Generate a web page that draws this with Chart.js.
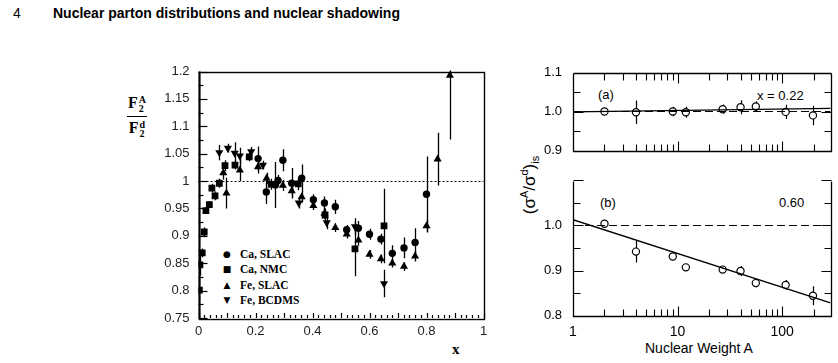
<!DOCTYPE html>
<html><head><meta charset="utf-8">
<script src="https://cdn.jsdelivr.net/npm/chart.js@4.4.1/dist/chart.umd.min.js"></script>
<style>
html,body{margin:0;padding:0;background:#fff;}
body{width:838px;height:363px;overflow:hidden;position:relative;font-family:"Liberation Sans",Arial,Helvetica,sans-serif;color:#000}
canvas{position:absolute;left:0;top:0}
.t{position:absolute;white-space:nowrap;line-height:1}
.lg{position:absolute;left:221px;font:bold 11.5px "Liberation Serif","Times New Roman",serif;white-space:nowrap;line-height:12px}
.lg span{display:inline-block;width:12px;text-align:center;font:9px "DejaVu Sans",sans-serif;margin-right:7px;vertical-align:1px}
.ss{display:inline-block;vertical-align:-4px;font-size:10px;line-height:9px;text-align:left;margin-left:1px}
</style></head>
<body>
<div class="t" style="left:13px;top:6px;font-size:14px">4</div>
<div class="t" style="left:53px;top:6px;font-size:14px;font-weight:bold">Nuclear parton distributions and nuclear shadowing</div>

<div class="t" style="left:127px;top:95px;font:bold 16px 'Liberation Serif','Times New Roman',serif;text-align:center;line-height:1">
  <div style="border-bottom:1.6px solid #000;padding:0 1px 3px">F<span class="ss">A<br>2</span></div>
  <div style="padding-top:3px">F<span class="ss">d<br>2</span></div>
</div>
<div class="t" style="left:452px;top:341px;font:bold 15px 'Liberation Serif','Times New Roman',serif">x</div>

<div class="lg" style="top:248px"><span>●</span>Ca, SLAC</div>
<div class="lg" style="top:263px"><span>■</span>Ca, NMC</div>
<div class="lg" style="top:279px"><span>▲</span>Fe, SLAC</div>
<div class="lg" style="top:294px"><span>▼</span>Fe, BCDMS</div>

<div class="t" style="left:598px;top:88px;font-size:13px">(a)</div>
<div class="t" style="left:757px;top:89px;font-size:13px">x = 0.22</div>
<div class="t" style="left:600px;top:196px;font-size:13px">(b)</div>
<div class="t" style="left:779px;top:196px;font-size:13px">0.60</div>
<div class="t" style="left:530px;top:185px;font-size:17px;transform:translate(-50%,-50%) rotate(-90deg)">(σ<sup style="font-size:11px">A</sup>/σ<sup style="font-size:11px">d</sup>)<sub style="font-size:11px">is</sub></div>
<div class="t" style="left:645px;top:341px;font-size:14px">Nuclear Weight A</div>

<canvas id="c1" width="838" height="363"></canvas>
<canvas id="c2" width="838" height="363"></canvas>
<canvas id="c3" width="838" height="363"></canvas>

<script>
// ---------- Left panel: F2^A / F2^d versus x ----------
const caSlacX = [0.209,0.238,0.270,0.279,0.296,0.327,0.362,0.403,0.442,0.480,0.520,0.561,0.600,0.640,0.680,0.721,0.760,0.800];
const caSlacR = [1.041,0.980,0.993,1.001,1.038,0.996,1.005,0.966,0.960,0.953,0.911,0.914,0.903,0.894,0.868,0.878,0.888,0.976];
const caSlacE = [0.022,0.022,0.042,0.010,0.020,0.028,0.025,0.010,0.012,0.013,0.009,0.013,0.010,0.010,0.015,0.019,0.026,0.069];

const caNmcX = [0.003,0.005,0.013,0.020,0.026,0.038,0.047,0.058,0.073,0.093,0.128,0.178,0.255,0.350,0.444,0.549,0.651];
const caNmcR = [0.801,0.847,0.869,0.907,0.946,0.957,0.987,0.973,0.996,1.028,1.029,1.044,0.994,0.995,0.938,0.876,0.918];
const caNmcE = [0.020,0.020,0.008,0.008,0.006,0.006,0.008,0.008,0.008,0.010,0.008,0.008,0.010,0.012,0.012,0.050,0.068];

const feSlacX = [0.087,0.098,0.145,0.209,0.239,0.296,0.327,0.362,0.403,0.442,0.480,0.520,0.561,0.600,0.640,0.680,0.721,0.760,0.800,0.839,0.882];
const feSlacR = [1.015,0.978,1.020,1.026,1.005,0.992,0.982,0.971,0.955,0.941,0.915,0.903,0.892,0.866,0.858,0.850,0.844,0.863,0.918,1.040,1.193];
const feSlacE = [0.012,0.028,0.020,0.012,0.010,0.010,0.010,0.010,0.008,0.010,0.008,0.008,0.010,0.008,0.008,0.008,0.008,0.010,0.012,0.048,0.117];

const feBcdmsX = [0.073,0.103,0.127,0.145,0.185,0.226,0.352,0.450,0.549,0.651];
const feBcdmsR = [1.052,1.060,1.051,1.046,1.054,1.029,0.960,0.924,0.917,0.813];
const feBcdmsE = [0.014,0.008,0.020,0.015,0.008,0.008,0.010,0.012,0.015,0.025];

const leftXTicks = [0,0.2,0.4,0.6,0.8,1];
const leftXTickLabels = ['0','0.2','0.4','0.6','0.8','1'];
const leftYTicks = [0.75,0.8,0.85,0.9,0.95,1,1.05,1.1,1.15,1.2];
const leftYTickLabels = ['0.75','0.8','0.85','0.9','0.95','1','1.05','1.1','1.15','1.2'];

// ---------- Right panel: (sigma^A/sigma^d)_is versus nuclear weight A ----------
const massNumbers = [2,4,9,12,27,40,56,108,197];
const ratioX022 = [1.000,0.998,1.000,0.998,1.006,1.011,1.013,0.999,0.990];
const errX022   = [0.006,0.030,0.012,0.014,0.012,0.018,0.013,0.018,0.025];
const ratioX060 = [1.004,0.942,0.931,0.907,0.902,0.899,0.872,0.868,0.844];
const errX060   = [0.005,0.024,0.007,0.004,0.004,0.011,0.009,0.011,0.021];
const fitA   = [1,290];
const fitX022 = [0.999,1.008];
const fitX060 = [1.013,0.828];
const unityLine = [1.0,1.0];
const rightXTicks = [1,10,100];
const rightXTickLabels = ['1','10','100'];
const topYTicks = [0.9,1.0,1.1];
const topYTickLabels = ['0.9','1.0','1.1'];
const botYTicks = [0.8,0.9,1.0];
const botYTickLabels = ['0.8','0.9','1.0'];

const FONT = '"Liberation Sans", Arial, Helvetica, sans-serif';

const errorBarPlugin = {
  id:'errbars',
  beforeDatasetsDraw(chart){
    const {ctx, chartArea:a, scales:{x,y}} = chart;
    ctx.save();
    ctx.beginPath(); ctx.rect(a.left,a.top-1,a.right-a.left,a.bottom-a.top+1); ctx.clip();
    chart.data.datasets.forEach(ds=>{
      if(!ds.errors) return;
      ctx.strokeStyle = '#000'; ctx.lineWidth = ds.errWidth || 1.3;
      ds.data.forEach((p,i)=>{
        const e = ds.errors[i]; if(!e) return;
        const px = Math.round(x.getPixelForValue(p.x)) + 0.5;
        ctx.beginPath();
        ctx.moveTo(px, y.getPixelForValue(p.y-e));
        ctx.lineTo(px, y.getPixelForValue(p.y+e));
        ctx.stroke();
      });
    });
    ctx.restore();
  }
};

const leftFramePlugin = {
  id:'leftframe',
  beforeDatasetsDraw(chart){
    const {ctx, chartArea:a, scales:{x,y}} = chart;
    ctx.save();
    ctx.strokeStyle='#000'; ctx.lineWidth=1; ctx.setLineDash([2,2]);
    const y1 = Math.round(y.getPixelForValue(1))+0.5;
    ctx.beginPath(); ctx.moveTo(a.left,y1); ctx.lineTo(a.right,y1); ctx.stroke();
    ctx.setLineDash([]);
    ctx.lineWidth=1.2;
    for(let i=0;i<=18;i++){
      const v = 0.75 + i*0.025;
      const py = Math.round(y.getPixelForValue(v))+0.5;
      const len = (i%2===0)?9:5;
      ctx.beginPath(); ctx.moveTo(a.left,py); ctx.lineTo(a.left+len,py); ctx.stroke();
    }
    for(let i=0;i<=50;i++){
      const v = i*0.02;
      const px = Math.round(x.getPixelForValue(v))+0.5;
      const len = (i%5===0)?5:3;
      ctx.beginPath(); ctx.moveTo(px,a.bottom); ctx.lineTo(px,a.bottom-len); ctx.stroke();
    }
    ctx.restore();
  },
  afterDraw(chart){
    const {ctx, chartArea:a} = chart;
    ctx.save();
    ctx.strokeStyle='#000'; ctx.lineWidth=1.4;
    ctx.strokeRect(Math.round(a.left)+0.5, Math.round(a.top)+0.5, Math.round(a.right-a.left), Math.round(a.bottom-a.top));
    ctx.lineWidth=2;
    ctx.beginPath(); ctx.moveTo(Math.round(a.left)+0.5,a.top); ctx.lineTo(Math.round(a.left)+0.5,a.bottom); ctx.stroke();
    ctx.restore();
  }
};

function ptSet(label, xs, ys, es, style, radius, rotation){
  return {
    label, errors: es,
    data: xs.map((v,i)=>({x:v,y:ys[i]})),
    pointStyle: style, pointRadius: radius, pointRotation: rotation,
    backgroundColor:'#000', borderColor:'#000', borderWidth:0, showLine:false
  };
}

new Chart(document.getElementById('c1'), {
  type:'scatter',
  data:{datasets:[
    ptSet('Ca, SLAC', caSlacX, caSlacR, caSlacE, 'circle', 3.7, 0),
    ptSet('Ca, NMC', caNmcX, caNmcR, caNmcE, 'rect', 4.8, 0),
    ptSet('Fe, SLAC', feSlacX, feSlacR, feSlacE, 'triangle', 4.7, 0),
    ptSet('Fe, BCDMS', feBcdmsX, feBcdmsR, feBcdmsE, 'triangle', 4.7, 180)
  ]},
  options:{
    responsive:false, animation:false, devicePixelRatio:1,
    layout:{padding:{left:158.5,right:354.5,top:71.5,bottom:17}},
    plugins:{legend:{display:false}, tooltip:{enabled:false}},
    scales:{
      x:{type:'linear',min:0,max:1,
        afterBuildTicks:s=>{s.ticks = leftXTicks.map(v=>({value:v}));},
        afterFit:s=>{s.height=28;},
        ticks:{callback:(v,i)=>leftXTickLabels[i], color:'#222', font:{family:FONT,size:13}, padding:6, maxRotation:0, autoSkip:false},
        grid:{display:false, drawTicks:false}, border:{display:false}},
      y:{type:'linear',min:0.75,max:1.2,
        afterBuildTicks:s=>{s.ticks = leftYTicks.map(v=>({value:v}));},
        afterFit:s=>{s.width=40;},
        ticks:{callback:(v,i)=>leftYTickLabels[i], color:'#222', font:{family:FONT,size:13}, padding:9, autoSkip:false},
        grid:{display:false, drawTicks:false}, border:{display:false}}
    }
  },
  plugins:[leftFramePlugin, errorBarPlugin]
});

function rightFrame(isTop){
  return {
    id:'rframe'+(isTop?'a':'b'),
    afterDraw(chart){
      const {ctx, chartArea:a, scales:{x,y}} = chart;
      ctx.save();
      ctx.strokeStyle='#000'; ctx.lineWidth=1.3;
      const L=Math.round(a.left)+0.5, R=Math.round(a.right)+0.5, T=Math.round(a.top)+0.5, B=Math.round(a.bottom)+0.5;
      ctx.beginPath();
      ctx.moveTo(L,T); ctx.lineTo(L,B); ctx.lineTo(R,B); ctx.lineTo(R,T);
      if(isTop){ ctx.moveTo(L,T); ctx.lineTo(R,T); }
      ctx.stroke();
      ctx.lineWidth=1.1;
      const y0 = y.min, y1 = y.max;
      for(let v=y0; v<=y1+1e-9; v+=0.05){
        const k = Math.round(v*100);
        const py = Math.round(y.getPixelForValue(v))+0.5;
        if(Math.abs(py-T)<1 || Math.abs(py-B)<1) continue;
        const len = (k%10===0)?10:7;
        ctx.beginPath(); ctx.moveTo(L,py); ctx.lineTo(L+len,py); ctx.moveTo(R,py); ctx.lineTo(R-len,py); ctx.stroke();
      }
      for(let d=1; d<=100; d*=10){
        for(let m=1; m<=9; m++){
          const v = d*m; if(v<=1 || v>x.max) continue;
          const px = Math.round(x.getPixelForValue(v))+0.5;
          const len = (m===1)?10:7;
          ctx.beginPath(); ctx.moveTo(px,B); ctx.lineTo(px,B-len); ctx.stroke();
          if(isTop){ ctx.beginPath(); ctx.moveTo(px,T); ctx.lineTo(px,T+len); ctx.stroke(); }
        }
      }
      ctx.restore();
    }
  };
}

function rightChart(id, isTop, ratios, errs, fitVals, yMin, yMax, yTicks, yLabels){
  return new Chart(document.getElementById(id), {
    type:'scatter',
    data:{datasets:[
      {label:'unity', data:fitA.map((v,i)=>({x:v,y:unityLine[i]})), showLine:true, borderColor:'#000', borderWidth:1.2, borderDash:[8,4], pointRadius:0},
      {label:'fit', data:fitA.map((v,i)=>({x:v,y:fitVals[i]})), showLine:true, borderColor:'#000', borderWidth:1.4, pointRadius:0},
      {label:'data', errors:errs, errWidth:1.2, data:massNumbers.map((v,i)=>({x:v,y:ratios[i]})), showLine:false,
        pointStyle:'circle', pointRadius:3.6, backgroundColor:'#fff', borderColor:'#000', borderWidth:1.2}
    ]},
    options:{
      responsive:false, animation:false, devicePixelRatio:1,
      layout:{padding: isTop ? {left:533,right:7.5,top:72.5,bottom:182.5} : {left:533,right:7.5,top:180.5,bottom:17.5}},
      plugins:{legend:{display:false}, tooltip:{enabled:false}},
      scales:{
        x:{type:'logarithmic',min:1,max:290, display: !isTop,
          afterBuildTicks:s=>{s.ticks = rightXTicks.map(v=>({value:v}));},
          afterFit:s=>{s.height=30;},
          ticks:{callback:(v,i)=>rightXTickLabels[i], color:'#000', font:{family:FONT,size:14}, padding:8, maxRotation:0, autoSkip:false},
          grid:{display:false, drawTicks:false}, border:{display:false}},
        y:{type:'linear',min:yMin,max:yMax,
          afterBuildTicks:s=>{s.ticks = yTicks.map(v=>({value:v}));},
          afterFit:s=>{s.width=40;},
          ticks:{callback:(v,i)=>yLabels[i], color:'#000', font:{family:FONT,size:13}, padding:11, autoSkip:false},
          grid:{display:false, drawTicks:false}, border:{display:false}}
      }
    },
    plugins:[errorBarPlugin, rightFrame(isTop)]
  });
}

rightChart('c2', true, ratioX022, errX022, fitX022, 0.9, 1.1, topYTicks, topYTickLabels);
rightChart('c3', false, ratioX060, errX060, fitX060, 0.8, 1.1, botYTicks, botYTickLabels);
</script>
</body></html>
